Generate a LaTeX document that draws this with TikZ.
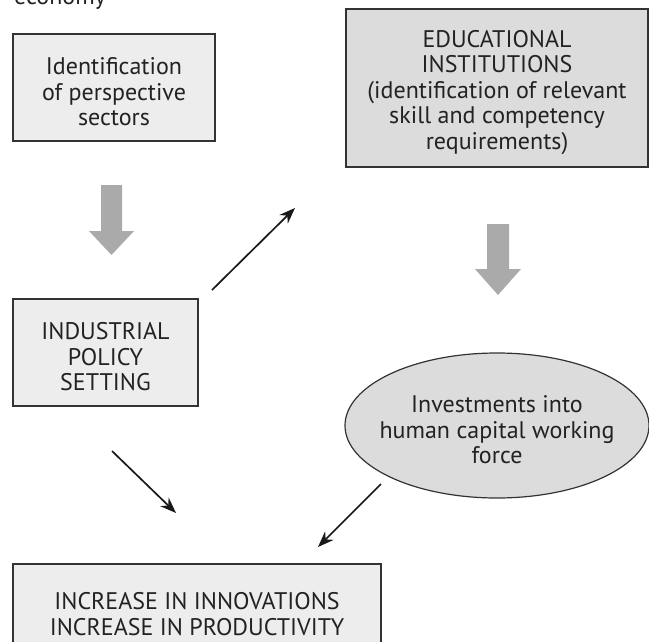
\documentclass[tikz,border=0pt]{standalone}
\usepackage{fontspec}
\setmainfont{PT Sans}
\usetikzlibrary{positioning}
\usetikzlibrary{shapes.geometric,arrows.meta,calc}
\definecolor{boxlight}{HTML}{EDEDED}
\definecolor{boxdark}{HTML}{DCDCDC}
\definecolor{edgegray}{HTML}{333333}
\definecolor{blockgray}{HTML}{AAAAAA}
\definecolor{textgray}{HTML}{222222}
\newcommand{\flowfont}{\fontsize{24}{25.5}\selectfont}
\newcommand{\topstrut}{\rule{0pt}{26pt}}

\begin{document}
\begin{tikzpicture}[x=1pt, y=-1pt,
  flowbox/.style={draw=edgegray, line width=1.2pt, fill=boxlight, align=center,
                  text=textgray, font=\flowfont, inner sep=0pt},
  flowoval/.style={flowbox, ellipse, fill=boxdark, inner xsep=-17pt},
  flowarrow/.style={-{Stealth[length=16pt,width=12pt]}, line width=1.7pt, black!90}]

\useasboundingbox (0,0) rectangle (649,641);

%\draw[step=50, gray!20, very thin] (0,0) grid (649,641);

\node [anchor=base west, inner sep=0pt, text=textgray, font=\flowfont] (econ) at (14,4) {economy};

\node [flowbox, minimum width=202, minimum height=107] (ident) at (114,87.5)
  {\topstrut Identification\\of perspective\\sectors};
\node [flowbox, fill=boxdark, minimum width=302, minimum height=158] (edu) at (497,88)
  {\topstrut EDUCATIONAL\\INSTITUTIONS\\(identification of relevant\\skill and competency\\requirements)};
\node [flowbox, minimum width=185, minimum height=107] (indu) at (105.5,352.5)
  {\topstrut INDUSTRIAL\\POLICY\\SETTING};
\node [flowoval, minimum width=304, minimum height=145] (invest) at (497,425.5)
  {\topstrut Investments into\\human capital working\\force};
\node [flowbox, minimum width=368, minimum height=91] (incr) at (197,609.5)
  {\topstrut INCREASE IN INNOVATIONS\\INCREASE IN PRODUCTIVITY};

% grey block arrows
\fill[blockgray] (101,185) -- (122,185) -- (122,231) -- (134,231) -- (111.5,255)
  -- (89,231) -- (101,231) -- cycle;
\fill[blockgray] (487,224) -- (509,224) -- (509,269) -- (521,269) -- (498,295)
  -- (475,269) -- (487,269) -- cycle;

% thin arrows
\coordinate (indu out)  at (212,290);
\coordinate (edu in)    at (295,208);
\coordinate (indu down) at (112,451);
\coordinate (incr in1)  at (176,513);
\coordinate (inv out)   at (381,484);
\coordinate (incr in2)  at (318,547);

\draw[flowarrow] (indu out)  -- (edu in);
\draw[flowarrow] (indu down) -- (incr in1);
\draw[flowarrow] (inv out)   -- (incr in2);

\end{tikzpicture}
\end{document}
